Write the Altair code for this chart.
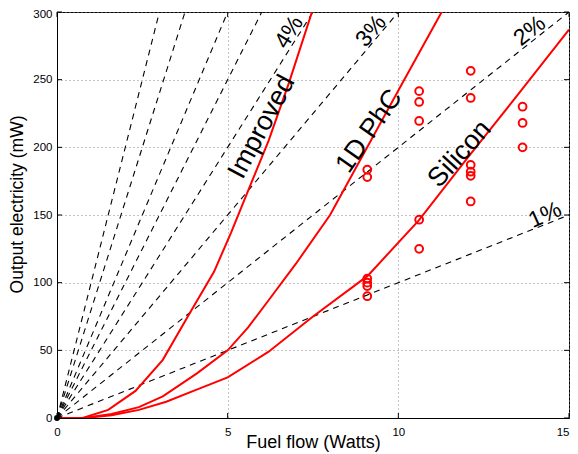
import altair as alt
import pandas as pd

# ---- data ----
# efficiency reference lines (dashed), drawn from origin to the plot edge
eff_names = ["1%", "2%", "3%", "4%", "5%", "6%", "8%", "10%"]
eff_x_end = [15, 15, 10, 7.5, 6, 5, 3.75, 3]
eff_y_end = [150, 300, 300, 300, 300, 300, 300, 300]

# model curves (red lines)
improved_x = [0, 0.75, 1.5, 2.3, 3.1, 3.9, 4.6, 5.1, 5.6, 6.2, 6.8, 7.47]
improved_y = [0, 0, 6, 20, 43, 78, 108, 137, 168, 205, 248, 300]
phc_x = [0, 0.8, 1.6, 2.4, 3.1, 4.1, 5.0, 5.6, 6.2, 7.0, 8.0, 9.0, 10.0, 11.27]
phc_y = [0, 0, 3, 8, 16, 33, 50, 67, 87, 114, 150, 196, 242, 300]
silicon_x = [0, 0.8, 1.6, 2.4, 3.2, 4.0, 5.0, 6.2, 7.5, 9.1, 10.6, 12.05, 13.6, 15]
silicon_y = [0, 0, 2, 6, 12, 20, 30, 49, 75, 105, 146, 193, 242, 287]

# measured points (red open circles)
meas_x = [9.09, 9.09, 9.09, 9.09, 9.09, 9.09,
          10.61, 10.61, 10.61, 10.61, 10.61,
          12.12, 12.12, 12.12, 12.12, 12.12, 12.12,
          13.64, 13.64, 13.64]
meas_y = [183.5, 178, 103, 100, 97.5, 90,
          241.5, 233.5, 219.5, 146.5, 125,
          256.5, 236.5, 187, 182, 179, 160,
          230, 218, 200]

# annotations
pct_text = ["4%", "3%", "2%", "1%"]
pct_x = [6.8, 9.2, 13.85, 14.3]
pct_y = [285, 286, 286, 150]
pct_angle = [302, 310, 322, 336]

name_text = ["Improved", "1D PhC", "Silicon"]
name_x = [6.0, 9.15, 11.8]
name_y = [215, 212, 195]
name_angle = [298, 305, 312]

x_ticks = [0, 5, 10, 15]
y_ticks = [0, 50, 100, 150, 200, 250, 300]

FONT = "Liberation Sans"
W, H = 512, 406

# ---- tables ----
eff_rows = []
for n, xe, ye in zip(eff_names, eff_x_end, eff_y_end):
    eff_rows.append({"eff": n, "x": 0, "y": 0, "o": 0})
    eff_rows.append({"eff": n, "x": xe, "y": ye, "o": 1})
eff_df = pd.DataFrame(eff_rows)

curve_rows = []
for name, xs, ys in [("Improved", improved_x, improved_y),
                     ("1D PhC", phc_x, phc_y),
                     ("Silicon", silicon_x, silicon_y)]:
    for i, (a, b) in enumerate(zip(xs, ys)):
        curve_rows.append({"curve": name, "x": a, "y": b, "o": i})
curve_df = pd.DataFrame(curve_rows)

meas_df = pd.DataFrame({"x": meas_x, "y": meas_y})
pct_df = pd.DataFrame({"t": pct_text, "x": pct_x, "y": pct_y, "a": pct_angle})
name_df = pd.DataFrame({"t": name_text, "x": name_x, "y": name_y, "a": name_angle})
xt_df = pd.DataFrame({"v": x_ticks})
yt_df = pd.DataFrame({"v": y_ticks})

xscale = alt.Scale(domain=[0, 15], nice=False, zero=False)
yscale = alt.Scale(domain=[0, 300], nice=False, zero=False)

xaxis = alt.Axis(values=x_ticks, title="Fuel flow (Watts)", grid=True,
                 gridDash=[1, 3], gridColor="#888888", gridOpacity=1,
                 ticks=False, tickSize=0, labelPadding=8, labelFontSize=11.5,
                 labelFont=FONT, labelColor="black", domainColor="black",
                 labelAlign={"condition": {"test": "datum.value == 15", "value": "right"},
                             "value": "center"},
                 titleFont=FONT, titleFontSize=18, titleFontWeight="normal",
                 titleColor="black", titleY=24, titleBaseline="middle",
                 labelFlush=False)
yaxis = alt.Axis(values=y_ticks, title="Output electricity (mW)", grid=True,
                 gridDash=[1, 3], gridColor="#888888", gridOpacity=1,
                 ticks=False, tickSize=0, labelPadding=5, labelFontSize=11.5,
                 labelFont=FONT, labelColor="black", domainColor="black",
                 labelOffset={"condition": {"test": "datum.value == 300", "value": 2},
                              "value": 0},
                 titleFont=FONT, titleFontSize=17.5, titleFontWeight="normal",
                 titleColor="black", titleX=-40, titleY=192, titleAngle=270,
                 titleBaseline="middle", titleAlign="center", labelFlush=False)

dashed = alt.Chart(eff_df).mark_line(color="black", strokeWidth=1.1,
                                      strokeDash=[6, 5], clip=True).encode(
    x=alt.X("x:Q", scale=xscale, axis=xaxis),
    y=alt.Y("y:Q", scale=yscale, axis=yaxis),
    detail="eff:N",
    order="o:Q",
)

curves = alt.Chart(curve_df).mark_line(color="red", strokeWidth=2, clip=True).encode(
    x=alt.X("x:Q", scale=xscale),
    y=alt.Y("y:Q", scale=yscale),
    detail="curve:N",
    order="o:Q",
)

points = alt.Chart(meas_df).mark_point(shape="circle", filled=False, color="red",
                                        strokeWidth=2, size=60, opacity=1).encode(
    x=alt.X("x:Q", scale=xscale),
    y=alt.Y("y:Q", scale=yscale),
)

origin = alt.Chart(pd.DataFrame({"x": [0], "y": [0]})).mark_point(
    shape="circle", filled=True, color="black", size=35, opacity=1).encode(
    x=alt.X("x:Q", scale=xscale),
    y=alt.Y("y:Q", scale=yscale),
)

pct_labels = alt.Chart(pct_df).mark_text(font=FONT, fontSize=23, color="black",
                                          align="center", baseline="middle").encode(
    x=alt.X("x:Q", scale=xscale),
    y=alt.Y("y:Q", scale=yscale),
    text="t:N",
    angle=alt.Angle("a:Q", scale=None),
)

name_labels = alt.Chart(name_df).mark_text(font=FONT, fontSize=27, color="black",
                                            align="center", baseline="middle").encode(
    x=alt.X("x:Q", scale=xscale),
    y=alt.Y("y:Q", scale=yscale),
    text="t:N",
    angle=alt.Angle("a:Q", scale=None),
)

# inward tick marks on all four sides (MATLAB box style)
xt_bottom = alt.Chart(xt_df).mark_rule(color="black", strokeWidth=1).encode(
    x=alt.X("v:Q", scale=xscale), y=alt.value(H), y2=alt.value(H - 5))
xt_top = alt.Chart(xt_df).mark_rule(color="black", strokeWidth=1).encode(
    x=alt.X("v:Q", scale=xscale), y=alt.value(0), y2=alt.value(5))
yt_left = alt.Chart(yt_df).mark_rule(color="black", strokeWidth=1).encode(
    y=alt.Y("v:Q", scale=yscale), x=alt.value(0), x2=alt.value(5))
yt_right = alt.Chart(yt_df).mark_rule(color="black", strokeWidth=1).encode(
    y=alt.Y("v:Q", scale=yscale), x=alt.value(W), x2=alt.value(W - 5))

chart = alt.layer(
    dashed, curves, points, origin, pct_labels, name_labels,
    xt_bottom, xt_top, yt_left, yt_right,
).properties(
    width=W, height=H,
    autosize=alt.AutoSizeParams(type="none"),
    padding={"left": 49, "top": 4, "right": 1, "bottom": 34},
    background="white",
).configure_view(
    stroke="black", strokeWidth=1,
)

chart.save("out.html", embed_options={"renderer": "svg", "actions": False})
